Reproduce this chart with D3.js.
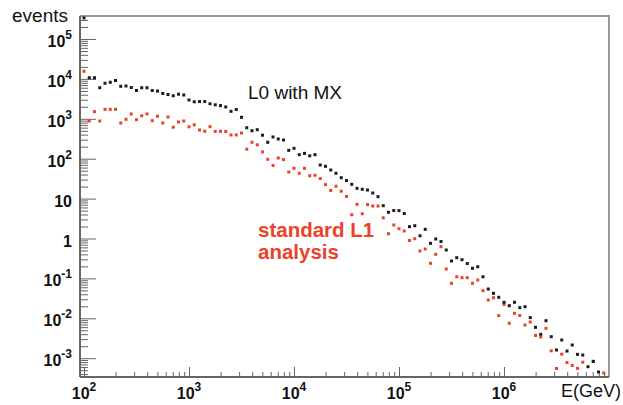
<!DOCTYPE html>
<html>
<head>
<meta charset="utf-8">
<script src="https://cdn.jsdelivr.net/npm/d3@7"></script>
<style>
    body { margin: 0; background: #fff; }
    svg { display: block; }
</style>
</head>
<body>
<div id="chart"></div>
<script>
// histogram bins: 20 per decade, starting at 10^2 GeV
const binLogE = d3.range(100).map(i => 2 + i * 0.05);

// events per bin, "L0 with MX" (black)
const l0Events = [
    3.36e5, 1.07e4, 1.07e4, 6.0e3, 7.76e3, 8.22e3, 9.12e3, 6.52e3, 6.64e3, 6.09e3,
    5.12e3, 6.0e3, 6.0e3, 5.12e3, 4.97e3, 4.31e3, 4.06e3, 3.79e3, 4.14e3, 3.95e3,
    2.96e3, 2.67e3, 2.71e3, 2.71e3, 2.38e3, 2.24e3, 2.14e3, 1.98e3, 1.54e3, 1.71e3,
    1.09e3, 598, 503, 533, 388, 258, 350, 312, 294, 162,
    182, 126, 136, 118, 126, 69.5, 64.5, 52.1, 43.1, 33.4,
    28.4, 22.8, 18.1, 17.1, 16.4, 13.8, 11.2, 6.64, 4.54, 5.03,
    5.0, 4.23, 1.98, 2.09, 1.17, 1.70, 0.758, 0.972, 0.841, 0.515,
    0.273, 0.330, 0.294, 0.236, 0.179, 0.196, 0.110, 0.0542, 0.0423, 0.0336,
    0.0252, 0.0207, 0.0252, 0.0185, 0.0195, 0.0104, 0.00594, 0.00397, 0.00871, 0.00346,
    0.00161, 0.00286, 0.00151, 0.00214, 0.00125, 0.00120, 0.000612, 0.000826, 0.000451, null
];

// events per bin, "standard L1 analysis" (red)
const l1Events = [
    1.55e4, 881, 1.51e3, 881, 1.73e3, 1.73e3, 1.73e3, 785, 972, 1.32e3,
    949, 1.19e3, 1.32e3, 896, 1.16e3, 785, 1.11e3, 616, 832, 881,
    630, 707, 524, 489, 634, 481, 485, 481, 393, 393,
    441, 173, 258, 223, 148, 96.6, 67.9, 104, 94.9, 46.4,
    57.4, 43.1, 57.4, 37.3, 38.4, 31.7, 22.4, 16.0, 20.5, 15.3,
    11.3, 3.95, 7.19, 4.16, 7.08, 6.53, 6.5, 3.30, 1.32, 2.18,
    1.76, 1.54, 0.891, 0.989, 0.486, 0.546, 0.239, 0.402, 0.623, 0.172,
    0.0753, 0.110, 0.104, 0.104, 0.0753, 0.0912, 0.0492, 0.0288, 0.0328, 0.0117,
    0.0222, 0.00750, 0.0133, 0.0117, 0.00679, 0.00807, 0.00371, 0.00340, 0.00561, 0.00153,
    0.000552, 0.00126, 0.000780, 0.000656, 0.000558, 0.000794, null, 0.000840, null, 0.000426
];

const xMajorTicks = [1e2, 1e3, 1e4, 1e5, 1e6];
const xTickExp = ["2", "3", "4", "5", "6"];
const yMajorTicks = [1e-3, 1e-2, 1e-1, 1, 10, 1e2, 1e3, 1e4, 1e5];
const yTickBase = ["10", "10", "10", "1", "10", "10", "10", "10", "10"];
const yTickExp = ["-3", "-2", "-1", "", "", "2", "3", "4", "5"];

const width = 623, height = 405;
const plot = {left: 80, right: 609, top: 16, bottom: 377};
const black = "#1c1c1c", red = "#ec4328";
const font = "'Liberation Sans', Arial, Helvetica, sans-serif";

const svg = d3.select("#chart")
    .append("svg")
    .attr("width", width)
    .attr("height", height)
    .style("font-family", font);

const x = d3.scaleLog()
    .domain([91.6, 1e7])
    .range([plot.left, plot.right]);

const y = d3.scaleLog()
    .domain([3.38e-4, 3.77e5])
    .range([plot.bottom, plot.top]);

// minor ticks 2..9 x 10^n
function minorTicks(scale) {
    const [a, b] = scale.domain();
    const out = [];
    for (let e = Math.floor(Math.log10(a)); e <= Math.ceil(Math.log10(b)); e++) {
        for (let k = 2; k <= 9; k++) {
            const v = k * Math.pow(10, e);
            if (v >= a && v <= b) out.push(v);
        }
    }
    return out;
}

// frame (top/right lighter)
svg.append("path")
    .attr("d", `M${plot.left},${plot.top}H${plot.right}V${plot.bottom}`)
    .attr("fill", "none")
    .attr("stroke", "#999")
    .attr("stroke-width", 2);

// X axis: ticks point up into the plot
const xMinor = svg.append("g")
    .attr("transform", `translate(0,${plot.bottom})`)
    .call(d3.axisTop(x).tickValues(minorTicks(x)).tickSize(5).tickFormat(""));
const xMajor = svg.append("g")
    .attr("transform", `translate(0,${plot.bottom})`)
    .call(d3.axisTop(x).tickValues(xMajorTicks).tickSize(10).tickFormat(""));

// Y axis: ticks point right into the plot
const yMinor = svg.append("g")
    .attr("transform", `translate(${plot.left},0)`)
    .call(d3.axisRight(y).tickValues(minorTicks(y)).tickSize(8).tickFormat(""));
const yMajor = svg.append("g")
    .attr("transform", `translate(${plot.left},0)`)
    .call(d3.axisRight(y).tickValues(yMajorTicks).tickSize(16).tickFormat(""));

[xMinor, xMajor, yMinor, yMajor].forEach(g => {
    g.select(".domain").attr("stroke", "#666").attr("stroke-width", 2);
    g.selectAll(".tick line").attr("stroke", "#666").attr("stroke-width", 1);
});
xMinor.select(".domain").attr("d", `M${plot.left},0H${plot.right}`);
yMinor.select(".domain").attr("d", `M0,${plot.top}V${plot.bottom}`);
xMajor.select(".domain").remove();
yMajor.select(".domain").remove();

// X tick labels
const xLab = svg.append("g")
    .selectAll("text")
    .data(xMajorTicks)
    .enter().append("text")
    .attr("x", d => x(d))
    .attr("y", 399)
    .attr("text-anchor", "middle")
    .attr("font-size", 16)
    .attr("font-weight", "bold")
    .attr("fill", "#111");
xLab.append("tspan").text("10");
xLab.append("tspan")
    .attr("font-size", 12)
    .attr("dy", -8)
    .text((d, i) => xTickExp[i]);

// Y tick labels
const yLab = svg.append("g")
    .selectAll("text")
    .data(yMajorTicks)
    .enter().append("text")
    .attr("x", 72)
    .attr("y", d => y(d) + 8)
    .attr("text-anchor", "end")
    .attr("font-size", 16)
    .attr("font-weight", "bold")
    .attr("fill", "#111");
yLab.append("tspan").text((d, i) => yTickBase[i]);
yLab.filter((d, i) => yTickExp[i] !== "")
    .append("tspan")
    .attr("font-size", 12)
    .attr("dy", -8)
    .text(d => yTickExp[yMajorTicks.indexOf(d)]);

// axis titles
svg.append("text")
    .attr("x", 12)
    .attr("y", 21.5)
    .attr("font-size", 19)
    .attr("fill", "#111")
    .text("events");

svg.append("text")
    .attr("x", 621)
    .attr("y", 397)
    .attr("text-anchor", "end")
    .attr("font-size", 18)
    .attr("fill", "#111")
    .text("E(GeV)");

// data points
function drawSeries(values, color) {
    const pts = values
        .map((v, i) => ({e: Math.pow(10, binLogE[i]), v: v}))
        .filter(d => d.v != null);
    svg.append("g")
        .selectAll("rect")
        .data(pts)
        .enter().append("rect")
        .attr("x", d => x(d.e) - 1.5)
        .attr("y", d => y(d.v) - 1.5)
        .attr("width", 3)
        .attr("height", 3)
        .attr("fill", color);
}
drawSeries(l1Events, red);
drawSeries(l0Events, black);

// annotations
svg.append("text")
    .attr("x", 248)
    .attr("y", 99)
    .attr("font-size", 19)
    .attr("fill", "#111")
    .text("L0 with MX");

const note = svg.append("text")
    .attr("x", 258)
    .attr("font-size", 20.5)
    .attr("font-weight", "bold")
    .attr("fill", red);
note.append("tspan").attr("x", 258).attr("y", 236.5).text("standard L1");
note.append("tspan").attr("x", 258).attr("y", 259).text("analysis");
</script>
</body>
</html>
